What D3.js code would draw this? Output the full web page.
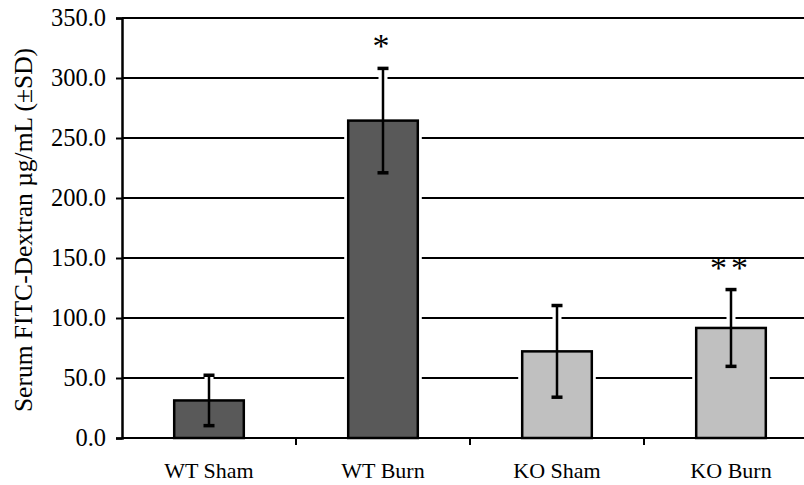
<!DOCTYPE html>
<html>
<head>
<meta charset="utf-8">
<script src="https://cdn.jsdelivr.net/npm/d3@7"></script>
<style>
  body { margin: 0; background: #fff; }
  svg text { font-family: "Liberation Serif", "Times New Roman", serif; fill: #000; }
</style>
</head>
<body>
<div id="chart"></div>
<script>
const categories = ["WT Sham", "WT Burn", "KO Sham", "KO Burn"];
const means = [31.3, 264.5, 72.2, 91.7];
const sds = [21.0, 43.5, 38.2, 32.0];
const groups = ["WT", "WT", "KO", "KO"];
const marks = ["", "*", "", "**"];
const yTicks = [0, 50, 100, 150, 200, 250, 300, 350];

const width = 804, height = 485;
const plotLeft = 122, plotTop = 18, plotBottom = 438;
const colors = { WT: "#595959", KO: "#c0c0c0" };

const svg = d3.select("#chart").append("svg")
  .attr("width", width)
  .attr("height", height);

const x = d3.scaleBand()
  .domain(categories)
  .range([plotLeft, plotLeft + 174 * 4])
  .paddingInner(0.6)
  .paddingOuter(0.3);

const y = d3.scaleLinear()
  .domain([0, 350])
  .range([plotBottom, plotTop]);

// gridlines
svg.selectAll("line.grid")
  .data(yTicks.filter(d => d > 0))
  .enter()
  .append("line")
  .attr("class", "grid")
  .attr("x1", plotLeft)
  .attr("x2", width)
  .attr("y1", d => y(d))
  .attr("y2", d => y(d))
  .attr("stroke", "#000")
  .attr("stroke-width", 2);

// y axis
const yAxis = svg.append("g")
  .attr("transform", `translate(${plotLeft},0)`)
  .call(d3.axisLeft(y).tickValues(yTicks).tickFormat(d3.format(".1f")).tickSize(6).tickPadding(10));
yAxis.attr("font-family", null).attr("font-size", null);
yAxis.select(".domain").attr("stroke-width", 2.5);
yAxis.selectAll(".tick line").attr("stroke-width", 2);
yAxis.selectAll("text")
  .style("font-size", "24.5px")
  .attr("fill", "#000");

// x axis
const step = x.step();
const bounds = categories.map(c => x(c) - step * 0.3).concat([x(categories[3]) + x.bandwidth() + step * 0.3]);
svg.append("line")
  .attr("x1", plotLeft).attr("x2", width)
  .attr("y1", plotBottom).attr("y2", plotBottom)
  .attr("stroke", "#000").attr("stroke-width", 2);
svg.selectAll("line.xtick")
  .data(bounds.slice(1, 4))
  .enter()
  .append("line")
  .attr("class", "xtick")
  .attr("x1", d => d).attr("x2", d => d)
  .attr("y1", plotBottom).attr("y2", plotBottom + 7)
  .attr("stroke", "#000").attr("stroke-width", 2);

svg.selectAll("text.xlabel")
  .data(categories)
  .enter()
  .append("text")
  .attr("class", "xlabel")
  .attr("x", d => x(d) + x.bandwidth() / 2)
  .attr("y", 478)
  .attr("text-anchor", "middle")
  .style("font-size", "22px")
  .text(d => d);

// white halo behind error bars and bars (breaks the gridlines)
svg.selectAll("rect.halo")
  .data(categories)
  .enter()
  .append("rect")
  .attr("class", "halo")
  .attr("x", d => x(d) - 4)
  .attr("y", (d, i) => y(means[i]) - 4)
  .attr("width", x.bandwidth() + 8)
  .attr("height", (d, i) => plotBottom - y(means[i]) + 2)
  .attr("fill", "#fff");

svg.selectAll("line.errhalo")
  .data(categories)
  .enter()
  .append("line")
  .attr("class", "errhalo")
  .attr("x1", d => x(d) + x.bandwidth() / 2)
  .attr("x2", d => x(d) + x.bandwidth() / 2)
  .attr("y1", (d, i) => y(means[i] + sds[i]) - 3)
  .attr("y2", (d, i) => y(means[i] - sds[i]) + 3)
  .attr("stroke", "#fff")
  .attr("stroke-width", 9);

// bars
svg.selectAll("rect.bar")
  .data(categories)
  .enter()
  .append("rect")
  .attr("class", "bar")
  .attr("x", d => x(d))
  .attr("y", (d, i) => y(means[i]))
  .attr("width", x.bandwidth())
  .attr("height", (d, i) => plotBottom - y(means[i]))
  .attr("fill", (d, i) => colors[groups[i]])
  .attr("stroke", "#000")
  .attr("stroke-width", 2.5);

// error bars
const err = svg.selectAll("g.err")
  .data(categories)
  .enter()
  .append("g")
  .attr("class", "err")
  .attr("stroke", "#000")
  .attr("stroke-width", 2.5);
err.append("line")
  .attr("x1", d => x(d) + x.bandwidth() / 2)
  .attr("x2", d => x(d) + x.bandwidth() / 2)
  .attr("y1", (d, i) => y(means[i] + sds[i]))
  .attr("y2", (d, i) => y(means[i] - sds[i]));
[1, -1].forEach(s => {
  err.append("line")
    .attr("x1", d => x(d) + x.bandwidth() / 2 - 5.5)
    .attr("x2", d => x(d) + x.bandwidth() / 2 + 5.5)
    .attr("y1", (d, i) => y(means[i] + s * sds[i]))
    .attr("y2", (d, i) => y(means[i] + s * sds[i]))
    .attr("stroke-width", 3.5);
});

// significance marks
svg.selectAll("text.mark")
  .data(categories)
  .enter()
  .append("text")
  .attr("class", "mark")
  .attr("x", d => x(d) + x.bandwidth() / 2)
  .attr("y", (d, i) => y(means[i] + sds[i]) - 11)
  .attr("text-anchor", "middle")
  .style("font-size", "34px")
  .style("letter-spacing", "4px")
  .text((d, i) => marks[i]);

// y title
svg.append("text")
  .attr("transform", `translate(32, ${(47 + 413) / 2}) rotate(-90)`)
  .attr("text-anchor", "middle")
  .style("font-size", "25.5px")
  .text("Serum FITC-Dextran µg/mL (±SD)");
</script>
</body>
</html>
